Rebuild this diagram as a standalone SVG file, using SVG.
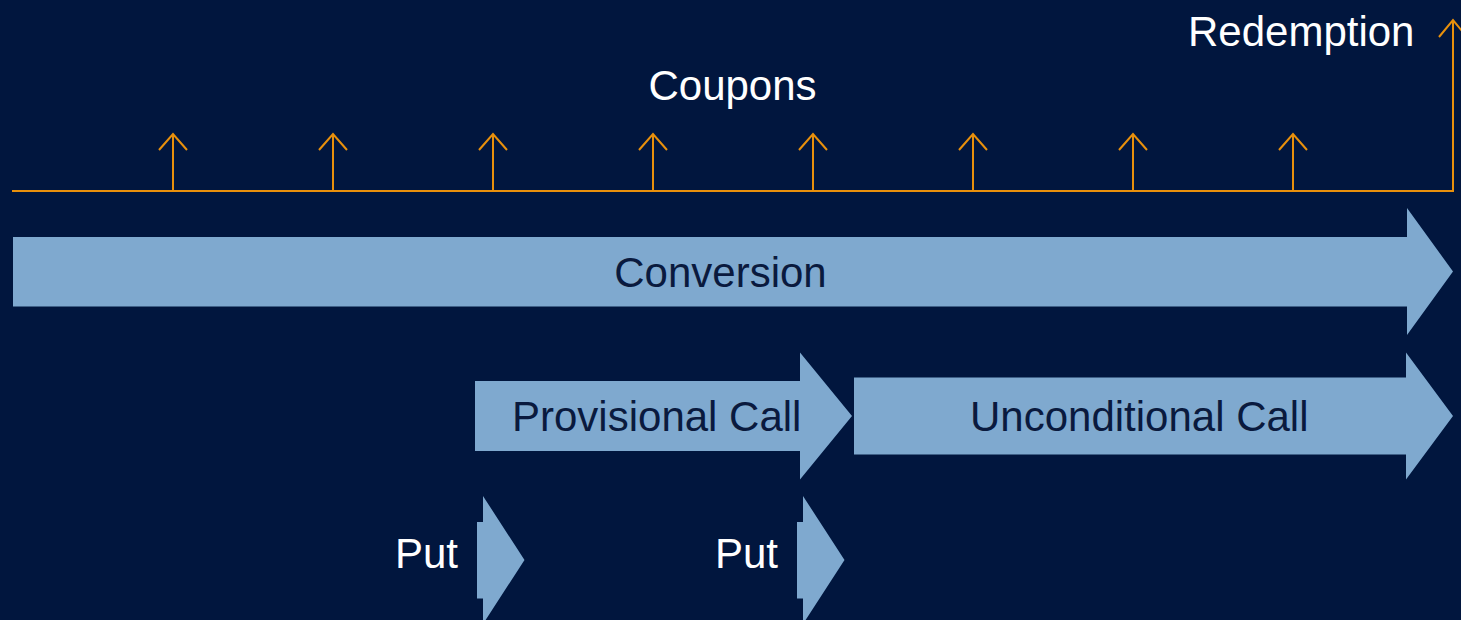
<svg xmlns="http://www.w3.org/2000/svg" width="1461" height="620" viewBox="0 0 1461 620">
<style>
.ln{stroke:#E8900C;stroke-width:2;fill:none}
.ar{fill:#7FA9CF}
.t{font-family:"Liberation Sans",Arial,sans-serif;font-size:42px}
.w{fill:#FFFFFF}
.d{fill:#0A1A3E}
</style>
<rect width="1461" height="620" fill="#01163E"/>
<g id="connectors">
<path class="ln" d="M12 191H1453V20"/>
<path class="ln" d="M1439 37L1453 20L1467 37"/>
<path class="ln" d="M173 191V134M159 150L173 134L187 150"/>
<path class="ln" d="M333 191V134M319 150L333 134L347 150"/>
<path class="ln" d="M493 191V134M479 150L493 134L507 150"/>
<path class="ln" d="M653 191V134M639 150L653 134L667 150"/>
<path class="ln" d="M813 191V134M799 150L813 134L827 150"/>
<path class="ln" d="M973 191V134M959 150L973 134L987 150"/>
<path class="ln" d="M1133 191V134M1119 150L1133 134L1147 150"/>
<path class="ln" d="M1293 191V134M1279 150L1293 134L1307 150"/>
</g>
<g id="coupons"><text class="t w" x="732.5" y="100" text-anchor="middle">Coupons</text></g>
<g id="redemption"><text class="t w" x="1188" y="46">Redemption</text></g>
<g id="conversion">
<path class="ar" d="M13 237H1407V208L1453 271.5L1407 335V306.5H13Z"/>
<text class="t d" x="720.5" y="287" text-anchor="middle">Conversion</text>
</g>
<g id="provisional-call">
<path class="ar" d="M475 381H800V352.5L852 416L800 479.5V451H475Z"/>
<text class="t d" x="512" y="431">Provisional Call</text>
</g>
<g id="unconditional-call">
<path class="ar" d="M854 377.5H1406V352.5L1453 416L1406 479.5V454.5H854Z"/>
<text class="t d" x="970" y="431">Unconditional Call</text>
</g>
<g id="put-1">
<path class="ar" d="M477 522H483V496L524.5 560L483 624V598.5H477Z"/>
<text class="t w" x="395" y="568">Put</text>
</g>
<g id="put-2">
<path class="ar" d="M797 522H803V496L844.5 560L803 624V598.5H797Z"/>
<text class="t w" x="715" y="568">Put</text>
</g>
</svg>
